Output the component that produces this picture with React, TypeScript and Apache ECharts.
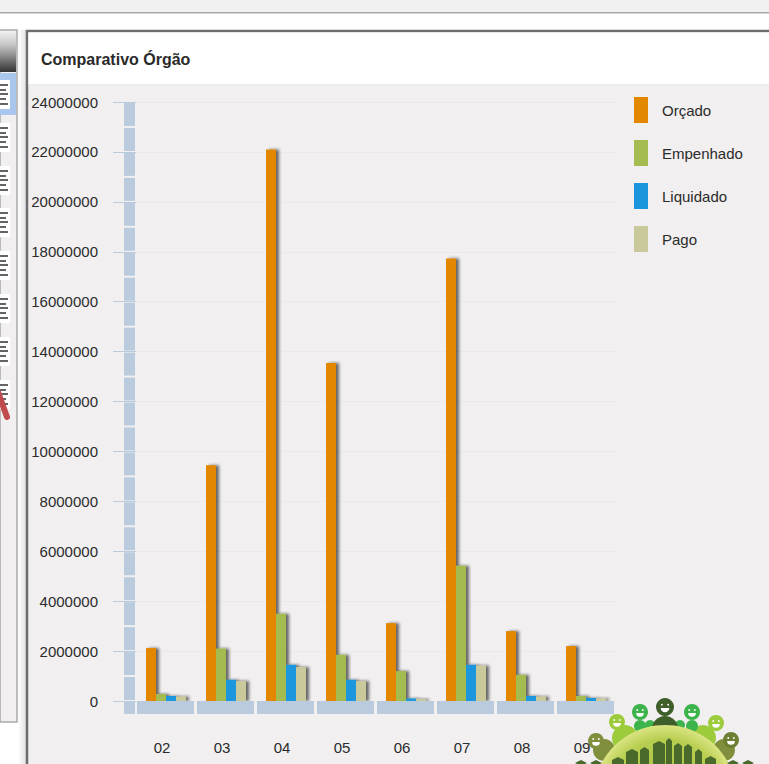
import React, { useEffect, useRef } from "react";
import * as echarts from "echarts";

const categories = ["02", "03", "04", "05", "06", "07", "08", "09"];
const orcado = [2120000, 9450000, 22100000, 13540000, 3120000, 17730000, 2800000, 2200000];
const empenhado = [280000, 2100000, 3500000, 1850000, 1200000, 5420000, 1050000, 200000];
const liquidado = [200000, 850000, 1450000, 850000, 100000, 1450000, 200000, 120000];
const pago = [180000, 800000, 1360000, 800000, 80000, 1420000, 180000, 100000];
const wallSteps = Array.from({ length: 24 }, (_, i) => i * 1000000);

const FONT = "'Liberation Sans', Arial, sans-serif";
const TEXT = "#2b2b2b";
const BLOCK = "#b9cbdc";

const rowTops = [80, 123, 166, 208, 251, 294, 337, 380];

function sidePanel(): any[] {
  const out: any[] = [
    { type: "rect", shape: { x: 0, y: 0, width: 769, height: 12 }, style: { fill: "#f0f0f0" } },
    { type: "rect", shape: { x: 0, y: 12, width: 769, height: 1.5 }, style: { fill: "#a8a8a8" } },
    { type: "rect", shape: { x: 0, y: 14, width: 769, height: 750 }, style: { fill: "#ffffff" } },
    {
      type: "rect",
      shape: { x: 18, y: 30, width: 8, height: 734 },
      style: {
        fill: {
          type: "linear", x: 0, y: 0, x2: 1, y2: 0,
          colorStops: [{ offset: 0, color: "#ffffff" }, { offset: 1, color: "#e2e2e2" }],
        },
      },
    },
    { type: "rect", shape: { x: 0, y: 30, width: 17, height: 692 }, style: { fill: "#f1eff0", stroke: "#a9a9a9", lineWidth: 1.5 } },
    {
      type: "rect",
      shape: { x: 0, y: 31, width: 16, height: 41 },
      style: {
        fill: {
          type: "linear", x: 0, y: 0, x2: 0, y2: 1,
          colorStops: [{ offset: 0, color: "#f2f2f2" }, { offset: 0.35, color: "#c4c4c4" }, { offset: 1, color: "#333333" }],
        },
      },
    },
    { type: "rect", shape: { x: 0, y: 73, width: 16, height: 42 }, style: { fill: "#a9c6ec" } },
  ];
  rowTops.forEach((y) => {
    out.push({ type: "rect", shape: { x: 0, y, width: 10, height: 29 }, style: { fill: "#ffffff" } });
    [5, 10, 14, 19, 24].forEach((dy, i) => {
      out.push({
        type: "line",
        shape: { x1: 0, y1: y + dy, x2: i % 2 ? 6 : 8, y2: y + dy },
        style: { stroke: "#222222", lineWidth: 1.4 },
      });
    });
  });
  out.push({
    type: "line",
    shape: { x1: -2, y1: 392, x2: 7, y2: 417 },
    style: { stroke: "#bf4b4f", lineWidth: 6, lineCap: "round" },
  });
  return out;
}

function mainPanel(): any[] {
  return [
    { type: "rect", shape: { x: 27, y: 31, width: 760, height: 760 }, style: { fill: "#f1eff0", stroke: "#6e6e6e", lineWidth: 2.5 } },
    { type: "rect", shape: { x: 28.5, y: 32.5, width: 741, height: 52 }, style: { fill: "#ffffff" } },
    { type: "rect", shape: { x: 28.5, y: 84, width: 741, height: 1.5 }, style: { fill: "#e9e9e9" } },
  ];
}

function face(cx: number, cy: number, r: number, color: string): any[] {
  return [
    { type: "circle", shape: { cx, cy, r }, style: { fill: color } },
    { type: "sector", shape: { cx, cy: cy + 1, r: r * 0.48, startAngle: 0, endAngle: Math.PI }, style: { fill: "#ffffff" } },
    { type: "circle", shape: { cx: cx - r * 0.35, cy: cy - r * 0.25, r: 0.9 }, style: { fill: "#ffffff" } },
    { type: "circle", shape: { cx: cx + r * 0.35, cy: cy - r * 0.25, r: 0.9 }, style: { fill: "#ffffff" } },
  ];
}

function logo(): any[] {
  const building = (x: number, top: number, w: number) => ({
    type: "polygon",
    shape: { points: [[x, 764], [x, top + 3], [x + w / 2, top], [x + w, top + 3], [x + w, 764]] },
    style: { fill: "#4a6a2c" },
  });
  const children: any[] = [
    { type: "circle", shape: { cx: 604, cy: 750, r: 11 }, style: { fill: "#7f8f3c" } },
    { type: "circle", shape: { cx: 724, cy: 750, r: 11 }, style: { fill: "#7f8f3c" } },
    { type: "circle", shape: { cx: 625, cy: 738, r: 13 }, style: { fill: "#9ccb3b" } },
    { type: "circle", shape: { cx: 703, cy: 738, r: 13 }, style: { fill: "#9ccb3b" } },
    { type: "circle", shape: { cx: 640, cy: 726, r: 6 }, style: { fill: "#3cb44b" } },
    { type: "circle", shape: { cx: 650, cy: 725, r: 5 }, style: { fill: "#3cb44b" } },
    { type: "circle", shape: { cx: 680, cy: 725, r: 5 }, style: { fill: "#3cb44b" } },
    { type: "circle", shape: { cx: 692, cy: 726, r: 6 }, style: { fill: "#3cb44b" } },
    { type: "sector", shape: { cx: 665, cy: 729, r: 13, startAngle: Math.PI, endAngle: 2 * Math.PI }, style: { fill: "#3f5f2a" } },
    ...face(596, 741, 8, "#7f8f3c"),
    ...face(731, 740, 8, "#6d7f33"),
    ...face(617, 722, 8, "#9ccb3b"),
    ...face(716, 723, 8, "#9ccb3b"),
    ...face(640, 712, 8, "#3cb44b"),
    ...face(692, 712, 8, "#3cb44b"),
    ...face(665, 707, 9, "#3f5f2a"),
    {
      type: "circle",
      shape: { cx: 665, cy: 797, r: 72 },
      style: {
        fill: {
          type: "radial", x: 0.5, y: 0.5, r: 0.5,
          colorStops: [{ offset: 0, color: "#9dba3a" }, { offset: 0.8, color: "#b8ce50" }, { offset: 1, color: "#dbe482" }],
        },
      },
    },
    building(612, 757, 12),
    building(626, 749, 12),
    building(640, 747, 9),
    building(653, 741, 12),
    building(666, 738, 6),
    building(674, 743, 8),
    building(684, 744, 8),
    building(695, 749, 7),
    building(705, 756, 11),
    { type: "polygon", shape: { points: [[575, 763], [581, 760], [587, 763], [581, 766]] }, style: { fill: "#4a6a2c" } },
    { type: "polygon", shape: { points: [[590, 763], [596, 760], [602, 763], [596, 766]] }, style: { fill: "#4a6a2c" } },
    { type: "polygon", shape: { points: [[727, 763], [733, 760], [739, 763], [733, 766]] }, style: { fill: "#4a6a2c" } },
    { type: "polygon", shape: { points: [[742, 763], [748, 760], [754, 763], [748, 766]] }, style: { fill: "#4a6a2c" } },
  ];
  return children;
}

const barStyle = (color: string) => ({
  color,
  shadowColor: "rgba(30,30,30,0.65)",
  shadowBlur: 3,
  shadowOffsetX: 3,
  shadowOffsetY: 0,
});

const bar = (name: string, data: number[], color: string) => ({
  name,
  type: "bar",
  data,
  barWidth: 10,
  barGap: "0%",
  z: 3,
  itemStyle: barStyle(color),
});

export default function App() {
  const ref = useRef<HTMLDivElement>(null);
  useEffect(() => {
    document.body.style.margin = "0";
    document.body.style.overflow = "hidden";
    const chart = echarts.init(ref.current!, undefined, { renderer: "svg" });
    chart.setOption({
      animation: false,
      backgroundColor: "transparent",
      textStyle: { fontFamily: FONT },
      title: {
        text: "Comparativo Órgão",
        left: 41,
        top: 50,
        padding: 0,
        textStyle: { fontFamily: FONT, fontSize: 16, fontWeight: "bold", color: "#2a2a2a", lineHeight: 18 },
        z: 20,
      },
      legend: {
        data: ["Orçado", "Empenhado", "Liquidado", "Pago"],
        orient: "vertical",
        left: 634,
        top: 97,
        padding: 0,
        itemWidth: 14,
        itemHeight: 26,
        itemGap: 17,
        icon: "rect",
        selectedMode: false,
        z: 20,
        textStyle: { fontFamily: FONT, fontSize: 15, color: TEXT, padding: [0, 0, 0, 9] },
      },
      grid: { left: 136, right: 153, top: 102, bottom: 63, containLabel: false },
      xAxis: {
        type: "category",
        data: categories,
        axisLine: { show: false },
        axisTick: { show: false },
        axisLabel: { margin: 39, color: TEXT, fontFamily: FONT, fontSize: 15, padding: [0, 8, 0, 0] },
      },
      yAxis: {
        type: "value",
        min: 0,
        max: 24000000,
        interval: 2000000,
        axisLine: { show: false },
        axisTick: { show: true, length: 23, lineStyle: { color: BLOCK, width: 1 } },
        axisLabel: { margin: 38, color: TEXT, fontFamily: FONT, fontSize: 15, padding: [0, 0, 2, 0], formatter: (v: number) => String(v) },
        splitLine: { show: true, lineStyle: { color: "#ebe9ea", width: 1 } },
      },
      series: [
        bar("Orçado", orcado, "#e38600"),
        bar("Empenhado", empenhado, "#a4bc50"),
        bar("Liquidado", liquidado, "#1b96dc"),
        bar("Pago", pago, "#c9c99b"),
        {
          name: "wall",
          type: "custom",
          data: wallSteps,
          z: 5,
          silent: true,
          encode: { y: 0 },
          renderItem: (_p: any, api: any) => {
            const v = api.value(0);
            const low = api.coord([0, v]);
            const high = api.coord([0, v + 1000000]);
            return {
              type: "rect",
              shape: { x: 124, y: high[1] + 1, width: 11, height: low[1] - high[1] - 2 },
              style: { fill: BLOCK },
            };
          },
        },
        {
          name: "floor",
          type: "custom",
          data: categories.map((_, i) => i),
          z: 5,
          silent: true,
          encode: { x: 0 },
          renderItem: (_p: any, api: any) => {
            const c = api.coord([api.value(0), 0]);
            const w = api.size([1, 0])[0];
            return {
              type: "rect",
              shape: { x: c[0] - w / 2 + 1, y: c[1], width: w - 3, height: 13 },
              style: { fill: BLOCK },
            };
          },
        },
      ],
      graphic: {
        elements: [
          { type: "group", z: -10, silent: true, children: [...sidePanel(), ...mainPanel()] },
          { type: "rect", z: 5, silent: true, shape: { x: 124, y: 702, width: 11, height: 12 }, style: { fill: BLOCK } },
          { type: "group", z: 30, silent: true, children: logo() },
        ],
      },
    });
    return () => chart.dispose();
  }, []);
  return <div ref={ref} style={{ position: "absolute", left: 0, top: 0, width: 769, height: 764 }} />;
}
